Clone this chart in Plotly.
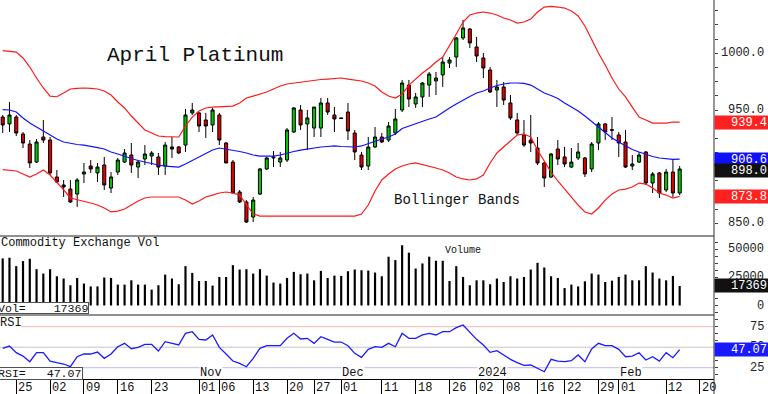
import pandas as pd
import plotly.graph_objects as go

# ---------------- data ----------------
holidays = ["2023-11-23", "2023-12-25", "2024-01-01", "2024-01-15", "2024-02-19"]
calendar = [d.strftime("%Y-%m-%d") for d in pd.bdate_range("2023-09-21", "2024-02-20")
            if d.strftime("%Y-%m-%d") not in holidays]
dates = calendar[:101]

open_ = [943.8, 937.7, 943.8, 928.8, 920.0, 904.1, 926.2, 923.5, 890.9, 883.9,
         880.3, 875.9, 893.6, 900.6, 894.5, 901.5, 881.2, 895.3, 904.1, 910.3,
         899.7, 906.8, 909.4, 908.6, 900.6, 917.4, 917.4, 919.1, 947.4, 947.4,
         941.2, 936.8, 945.6, 920.9, 904.1, 877.7, 868.9, 855.6, 875.9, 898.0,
         907.7, 904.1, 905.9, 930.6, 950.0, 937.7, 934.1, 934.1, 956.2, 945.6,
         943.0, 948.2, 929.7, 910.3, 900.6, 917.4, 926.2, 923.5, 929.7, 950.0,
         972.0, 955.3, 961.5, 972.0, 975.6, 980.9, 991.4, 996.7, 1013.5, 1021.4,
         1005.6, 995.9, 985.3, 967.6, 970.3, 956.2, 941.2, 928.0, 923.5, 916.5,
         903.3, 890.9, 915.6, 908.6, 899.7, 907.7, 907.7, 898.0, 920.9, 937.7,
         932.6, 928.0, 921.8, 900.6, 904.1, 913.0, 885.6, 894.5, 879.5, 895.3,
         876.8]
high = [945.6, 957.1, 945.6, 930.6, 923.5, 924.4, 941.2, 926.2, 897.1, 888.3,
        888.3, 890.0, 903.3, 905.9, 903.3, 908.6, 895.3, 907.7, 915.6, 920.9,
        905.9, 919.1, 913.8, 912.1, 921.8, 926.2, 918.3, 950.9, 956.2, 948.2,
        947.4, 951.8, 947.4, 921.8, 905.9, 879.5, 870.6, 873.3, 898.9, 908.6,
        913.8, 913.0, 934.1, 952.6, 954.4, 950.0, 952.6, 960.6, 960.6, 952.6,
        943.5, 956.2, 932.4, 913.0, 926.2, 935.0, 929.7, 939.4, 950.9, 976.5,
        976.5, 965.0, 974.7, 983.5, 983.5, 996.7, 996.7, 1014.4, 1029.4, 1022.3,
        1014.4, 1000.3, 987.9, 976.5, 974.7, 963.2, 947.4, 941.2, 945.6, 926.2,
        904.1, 912.1, 923.5, 917.4, 916.5, 920.9, 908.6, 921.8, 939.4, 938.5,
        943.8, 930.6, 932.4, 910.3, 913.0, 913.8, 895.3, 895.3, 898.0, 905.9,
        900.6]
low = [929.7, 930.6, 927.1, 916.5, 898.9, 903.3, 920.9, 892.7, 885.6, 873.3,
       868.0, 864.5, 885.6, 894.5, 886.5, 879.5, 876.8, 892.7, 903.3, 894.5,
       890.0, 901.5, 901.5, 892.7, 892.7, 907.7, 911.2, 913.0, 945.6, 930.6,
       925.3, 930.6, 919.1, 903.3, 876.8, 868.0, 850.4, 851.2, 875.0, 897.1,
       899.7, 899.7, 904.1, 929.7, 932.4, 914.7, 926.2, 926.2, 945.6, 930.6,
       942.0, 923.5, 905.9, 897.1, 897.1, 916.5, 920.9, 921.8, 928.0, 948.2,
       952.6, 951.8, 952.6, 961.5, 963.2, 970.3, 987.0, 987.9, 1011.7, 1004.7,
       992.3, 978.2, 965.0, 952.6, 954.4, 941.2, 928.0, 917.4, 913.0, 901.5,
       882.1, 890.0, 901.5, 899.7, 898.9, 905.9, 890.9, 895.3, 914.7, 923.5,
       923.5, 908.6, 898.9, 897.1, 903.3, 883.9, 876.8, 872.4, 877.7, 873.3,
       875.0]
close = [936.8, 945.6, 929.7, 920.9, 903.3, 921.8, 923.5, 894.5, 886.5, 882.1,
         868.9, 888.3, 895.3, 898.0, 899.7, 883.9, 890.9, 905.9, 912.1, 901.5,
         904.1, 911.2, 912.1, 899.7, 919.1, 915.6, 912.1, 945.6, 950.0, 935.9,
         935.9, 950.0, 923.5, 903.3, 876.8, 868.9, 851.2, 870.6, 898.0, 907.7,
         908.4, 907.7, 932.4, 951.8, 936.8, 943.0, 952.6, 956.2, 948.2, 942.1,
         942.5, 931.5, 913.0, 899.7, 917.4, 926.2, 921.8, 935.9, 942.1, 973.8,
         959.7, 961.5, 973.8, 981.7, 978.2, 992.3, 994.1, 1013.5, 1022.3, 1009.1,
         997.6, 987.0, 965.9, 970.3, 958.8, 943.0, 929.7, 919.1, 920.9, 903.3,
         890.0, 911.2, 906.8, 902.4, 904.1, 913.0, 893.6, 920.0, 937.7, 930.6,
         932.2, 920.9, 899.7, 902.4, 910.3, 885.6, 893.6, 876.8, 895.3, 876.8,
         898.0]

bb_upper = [1002.3, 1002.0, 1001.1, 995.9, 987.9, 978.2, 969.4, 962.3, 961.7, 965.0,
            968.5, 969.0, 969.4, 969.0, 968.5, 966.8, 963.2, 957.1, 951.8, 944.7,
            938.5, 932.4, 929.7, 927.1, 926.6, 926.2, 926.2, 935.9, 943.8, 949.1,
            951.8, 952.6, 953.1, 953.5, 953.5, 956.2, 960.6, 962.3, 964.1, 965.9,
            968.5, 971.2, 972.9, 973.8, 974.7, 975.6, 976.5, 976.9, 977.3, 977.8,
            978.2, 977.3, 976.5, 975.6, 973.8, 971.2, 965.9, 962.3, 960.6, 964.1,
            972.0, 977.3, 982.6, 987.0, 992.3, 996.7, 1006.4, 1017.0, 1027.6, 1033.8,
            1035.5, 1036.4, 1035.5, 1033.8, 1031.1, 1029.4, 1026.7, 1027.6, 1030.2, 1036.4,
            1040.8, 1041.3, 1040.8, 1039.9, 1037.3, 1032.9, 1024.1, 1011.7, 1000.3, 989.7,
            978.2, 968.5, 961.5, 952.6, 943.8, 941.2, 938.5, 938.5, 938.5, 939.4,
            939.4]
bb_mid = [950.4, 950.0, 948.2, 942.9, 938.5, 935.0, 931.5, 928.0, 924.4, 921.8,
          920.5, 919.6, 919.1, 918.3, 916.9, 915.6, 913.0, 911.2, 909.0, 907.2,
          905.5, 904.1, 902.8, 901.5, 900.6, 900.2, 899.7, 902.4, 905.5, 908.6,
          912.1, 914.7, 916.5, 915.6, 914.7, 913.4, 912.1, 910.3, 909.4, 909.4,
          909.4, 910.3, 912.1, 913.4, 914.7, 915.6, 916.9, 917.4, 917.8, 918.3,
          917.8, 917.4, 917.4, 918.3, 920.5, 922.2, 924.4, 926.2, 928.8, 933.7,
          935.9, 938.1, 940.3, 942.1, 943.8, 948.2, 951.8, 955.3, 958.8, 961.9,
          965.0, 966.8, 969.4, 971.6, 972.9, 973.8, 973.8, 973.4, 972.0, 968.5,
          965.0, 962.8, 960.1, 956.2, 952.6, 949.1, 944.7, 939.9, 935.0, 929.7,
          925.3, 921.8, 918.3, 915.2, 913.0, 910.8, 909.0, 907.7, 906.8, 906.4,
          906.6]
bb_lower = [897.5, 897.1, 896.2, 893.6, 890.9, 893.6, 897.1, 892.7, 886.5, 879.5,
            872.4, 871.1, 869.8, 868.0, 866.2, 863.6, 860.1, 860.9, 862.7, 866.2,
            869.8, 872.4, 873.3, 873.3, 873.3, 873.3, 873.3, 870.6, 867.1, 869.8,
            873.3, 875.0, 876.8, 877.7, 876.8, 875.0, 866.2, 858.3, 856.5, 856.5,
            856.5, 856.5, 856.5, 856.5, 856.5, 856.5, 856.5, 856.5, 856.5, 856.5,
            856.5, 856.5, 856.5, 858.3, 866.2, 878.6, 888.3, 893.6, 898.0, 900.6,
            902.4, 903.3, 902.0, 900.6, 898.9, 897.1, 894.4, 890.9, 889.2, 888.3,
            889.2, 892.7, 903.3, 912.1, 917.4, 922.7, 928.0, 928.8, 926.2, 914.7,
            905.0, 895.3, 887.4, 880.3, 872.4, 866.2, 860.1, 858.3, 863.6, 870.6,
            875.9, 879.5, 880.3, 882.1, 885.6, 884.7, 881.2, 876.8, 875.0, 872.4,
            873.8]

volume = [41900, 42500, 35000, 39500, 41600, 32300, 28400, 32300, 26000, 24000,
          18000, 24500, 19500, 17000, 17000, 24900, 24500, 18600, 18600, 22400,
          18600, 18600, 14100, 18000, 27500, 24000, 18900, 35000, 29000, 21800,
          21800, 17700, 25400, 25400, 35900, 32000, 32300, 28400, 32300, 26600,
          20400, 19500, 24500, 29900, 27800, 28400, 22400, 30800, 24500, 26600,
          26300, 30500, 32000, 31400, 31100, 29300, 26000, 43400, 40400, 53600,
          47000, 32900, 37400, 43400, 39800, 39800, 21800, 35000, 25400, 18000,
          22400, 22400, 18900, 24000, 20900, 26000, 24000, 25400, 32000, 38000,
          33800, 26000, 24500, 15500, 18600, 17000, 21500, 28400, 27500, 20900,
          22100, 25400, 27500, 22400, 22400, 35000, 29300, 24000, 22400, 26300,
          17369]

rsi = [48.6, 51.4, 43.3, 39.2, 32.3, 43.3, 43.3, 33.1, 31.1, 29.5,
       26.2, 38.4, 41.7, 41.7, 44.1, 36.4, 41.7, 50.6, 54.7, 48.2,
       49.8, 53.5, 53.5, 45.3, 56.7, 54.7, 52.7, 66.9, 68.9, 59.6,
       58.8, 64.9, 49.8, 41.7, 33.1, 30.3, 26.2, 36.4, 48.6, 51.8,
       51.8, 51.8, 60.8, 66.9, 60.0, 60.8, 54.7, 62.8, 59.6, 56.3,
       56.3, 51.8, 42.5, 37.6, 47.4, 50.6, 49.8, 54.7, 50.6, 66.9,
       60.8, 60.8, 64.9, 66.9, 64.9, 68.9, 68.9, 73.8, 77.1, 67.7,
       59.6, 52.7, 43.7, 45.7, 40.5, 35.2, 31.1, 27.9, 28.3, 24.2,
       20.1, 35.2, 33.1, 32.3, 33.6, 40.5, 32.3, 47.8, 54.7, 51.8,
       51.8, 47.4, 38.4, 39.2, 43.3, 34.4, 38.4, 33.1, 43.3, 37.2,
       47.07]

tick_dates = ["2023-09-25", "2023-10-02", "2023-10-09", "2023-10-16", "2023-10-23",
              "2023-11-01", "2023-11-06", "2023-11-13", "2023-11-20", "2023-11-27",
              "2023-12-01", "2023-12-11", "2023-12-18", "2023-12-26", "2024-01-02",
              "2024-01-08", "2024-01-16", "2024-01-22", "2024-01-29", "2024-02-01",
              "2024-02-12", "2024-02-20"]
tick_text = ["25", "02", "09", "16", "23", "01", "06", "13", "20", "27", "01",
             "11", "18", "26", "02", "08", "16", "22", "29", "01", "12", "20"]
month_dates = ["2023-11-01", "2023-12-01", "2024-01-02", "2024-02-01"]
month_text = ["Nov", "Dec", "2024", "Feb"]

price_ticks = [1000, 950, 900, 850]
price_tick_text = ["1000.0", "950.0", "900.0", "850.0"]
vol_ticks = [50000, 25000, 0]
vol_tick_text = ["50000", "25000", "0"]
rsi_ticks = [75, 50, 25]
rsi_tick_text = ["75", "50", "25"]

title = "April Platinum"

# ---------------- styling / layout helpers ----------------
W, H = 768, 394
ML, MR, MT, MB = 0, 54, 0, 15
PW, PH = W - ML - MR, H - MT - MB
FONT = "Liberation Mono, DejaVu Sans Mono, monospace"
GREEN, RED, BBRED, BLUE = "#00c800", "#e00000", "#ff1a1a", "#1010ff"


def px_x(p):
    return p / PW


def px_y(p):
    return (PH - p) / PH


pos = {d: i for i, d in enumerate(calendar)}
xi = list(range(len(dates)))

fig = go.Figure()
fig.add_trace(go.Scatter(x=xi, y=bb_upper, mode="lines", line=dict(color=BBRED, width=1.2),
                         yaxis="y", hoverinfo="skip"))
fig.add_trace(go.Scatter(x=xi, y=bb_lower, mode="lines", line=dict(color=BBRED, width=1.2),
                         yaxis="y", hoverinfo="skip"))
fig.add_trace(go.Scatter(x=xi, y=bb_mid, mode="lines", line=dict(color=BLUE, width=1.2),
                         yaxis="y", hoverinfo="skip"))
fig.add_trace(go.Candlestick(
    x=xi, open=open_, high=high, low=low, close=close, yaxis="y", whiskerwidth=0,
    increasing=dict(fillcolor=GREEN, line=dict(color="black", width=1)),
    decreasing=dict(fillcolor=RED, line=dict(color="black", width=1)),
))
fig.add_trace(go.Bar(x=xi, y=volume, width=0.32, marker=dict(color="black", line=dict(width=0)),
                     yaxis="y2"))
fig.add_trace(go.Scatter(x=xi, y=rsi, mode="lines", line=dict(color="#1a1aff", width=1.3),
                         yaxis="y3"))

yax_common = dict(side="right", showgrid=False, zeroline=False, showticklabels=False,
                  ticks="outside", ticklen=3, tickcolor="#404040", showline=False, fixedrange=True)

fig.update_layout(
    width=W, height=H, margin=dict(l=ML, r=MR, t=MT, b=MB, autoexpand=False),
    paper_bgcolor="white", plot_bgcolor="white", showlegend=False,
    boxgap=0.35,
    xaxis=dict(domain=[0, 1], range=[-0.4, 105.07], anchor="y3", showgrid=False, zeroline=False,
               showline=True, linecolor="black", linewidth=1, ticks="outside", ticklen=15,
               tickcolor="black", tickvals=[pos[d] for d in tick_dates], showticklabels=False,
               rangeslider=dict(visible=False), automargin=False),
    yaxis=dict(domain=[px_y(236), 1], range=[838.9, 1047.0], anchor="x", dtick=12.5, tick0=0,
               **yax_common),
    yaxis2=dict(domain=[px_y(315), px_y(236)], range=[-8452, 61834], anchor="x", dtick=6250,
                tick0=0, **yax_common),
    yaxis3=dict(domain=[0, px_y(315)], range=[11.22, 89.27], anchor="x", dtick=25 / 3, tick0=0,
                **yax_common),
)

shapes = [
    dict(type="line", xref="paper", yref="y3", x0=px_x(21), x1=1, y0=75, y1=75,
         line=dict(color="#f4b4b4", width=1), layer="below"),
    dict(type="line", xref="paper", yref="y3", x0=0, x1=1, y0=50, y1=50,
         line=dict(color="#c4c4c4", width=1), layer="below"),
    dict(type="line", xref="paper", yref="y3", x0=0, x1=1, y0=25, y1=25,
         line=dict(color="#c8c8f2", width=1.2), layer="below"),
    dict(type="line", xref="paper", yref="paper", x0=0, x1=1, y0=px_y(236), y1=px_y(236),
         line=dict(color="#202020", width=1)),
    dict(type="line", xref="paper", yref="paper", x0=0, x1=1, y0=px_y(315), y1=px_y(315),
         line=dict(color="#202020", width=1)),
    dict(type="line", xref="paper", yref="paper", x0=1, x1=1, y0=px_y(394), y1=1,
         line=dict(color="#303030", width=1)),
]
fig.update_layout(shapes=shapes)

ann = []
ann.append(dict(text=title, xref="paper", yref="paper", x=px_x(105), y=px_y(56),
                xanchor="left", yanchor="middle", font=dict(family=FONT, size=21, color="#111111"),
                showarrow=False))
ann.append(dict(text="Bollinger Bands", xref="paper", yref="paper", x=px_x(392), y=px_y(200),
                xanchor="left", yanchor="middle", font=dict(family=FONT, size=14, color="#111111"),
                showarrow=False))
ann.append(dict(text="Commodity Exchange Vol", xref="paper", yref="paper", x=px_x(-1), y=px_y(243),
                xanchor="left", yanchor="middle", font=dict(family=FONT, size=12, color="#111111"),
                showarrow=False))
ann.append(dict(text="Volume", xref="paper", yref="paper", x=px_x(443), y=px_y(250.5),
                xanchor="left", yanchor="middle", font=dict(family=FONT, size=10, color="#111111"),
                showarrow=False))
nb = "\u00a0"
ann.append(dict(text="Vol=" + nb * 4 + f"{volume[-1]}", xref="paper", yref="paper", x=px_x(-3),
                y=px_y(307.5), xanchor="left", yanchor="middle", height=10, borderpad=0,
                bgcolor="white", bordercolor="#505050", borderwidth=1,
                font=dict(family=FONT, size=11.6, color="#111111"), showarrow=False))
ann.append(dict(text="RSI", xref="paper", yref="paper", x=px_x(-2), y=px_y(323),
                xanchor="left", yanchor="middle", font=dict(family=FONT, size=12, color="#111111"),
                showarrow=False))
ann.append(dict(text="RSI=" + nb * 3 + f"{rsi[-1]:.2f}", xref="paper", yref="paper", x=px_x(-3),
                y=px_y(373.3), xanchor="left", yanchor="middle", height=11, borderpad=0,
                bgcolor="white", bordercolor="#505050", borderwidth=1,
                font=dict(family=FONT, size=11.6, color="#111111"), showarrow=False))
for d, t in zip(month_dates, month_text):
    ann.append(dict(text=t, xref="x", yref="paper", x=pos[d], y=px_y(379), xanchor="left",
                    yanchor="bottom", height=11, borderpad=0, bgcolor="white",
                    font=dict(family=FONT, size=12, color="#111111"), showarrow=False))
for d, t in zip(tick_dates, tick_text):
    ann.append(dict(text=t, xref="x", yref="paper", x=pos[d], y=px_y(387.5), xanchor="left",
                    xshift=0, yanchor="middle", font=dict(family=FONT, size=12, color="#111111"),
                    showarrow=False))
for yref, vals, labels in (("y", price_ticks, price_tick_text), ("y2", vol_ticks, vol_tick_text),
                           ("y3", rsi_ticks, rsi_tick_text)):
    for v, t in zip(vals, labels):
        ann.append(dict(text=t, xref="paper", yref=yref, x=px_x(766), y=v, xanchor="right",
                        yanchor="middle", font=dict(family=FONT, size=12, color="#222222"),
                        showarrow=False))

tags = [("y", bb_upper[-1], f"{bb_upper[-1]:.1f}", "#ff2020", 0),
        ("y", bb_mid[-1], f"{bb_mid[-1]:.1f}", "#1010ff", 0),
        ("y", close[-1], f"{close[-1]:.1f}", "#111111", -2),
        ("y", bb_lower[-1], f"{bb_lower[-1]:.1f}", "#ff2020", 0),
        ("y2", volume[-1], f"{volume[-1]}", "#111111", 0),
        ("y3", rsi[-1], f"{rsi[-1]:.2f}", "#1a1aff", 0)]
for yref, v, t, c, ys in tags:
    ann.append(dict(text=t, xref="paper", yref=yref, x=1, y=v, xanchor="left", yanchor="middle",
                    yshift=ys, width=51, height=11, borderpad=1, align="right", bgcolor=c,
                    font=dict(family=FONT, size=12, color="white"), showarrow=False))

fig.update_layout(annotations=ann)
fig.write_html(
    "out.html",
    config={"displayModeBar": False},
    post_script="document.body.style.margin='0';document.body.style.overflow='hidden';",
)
